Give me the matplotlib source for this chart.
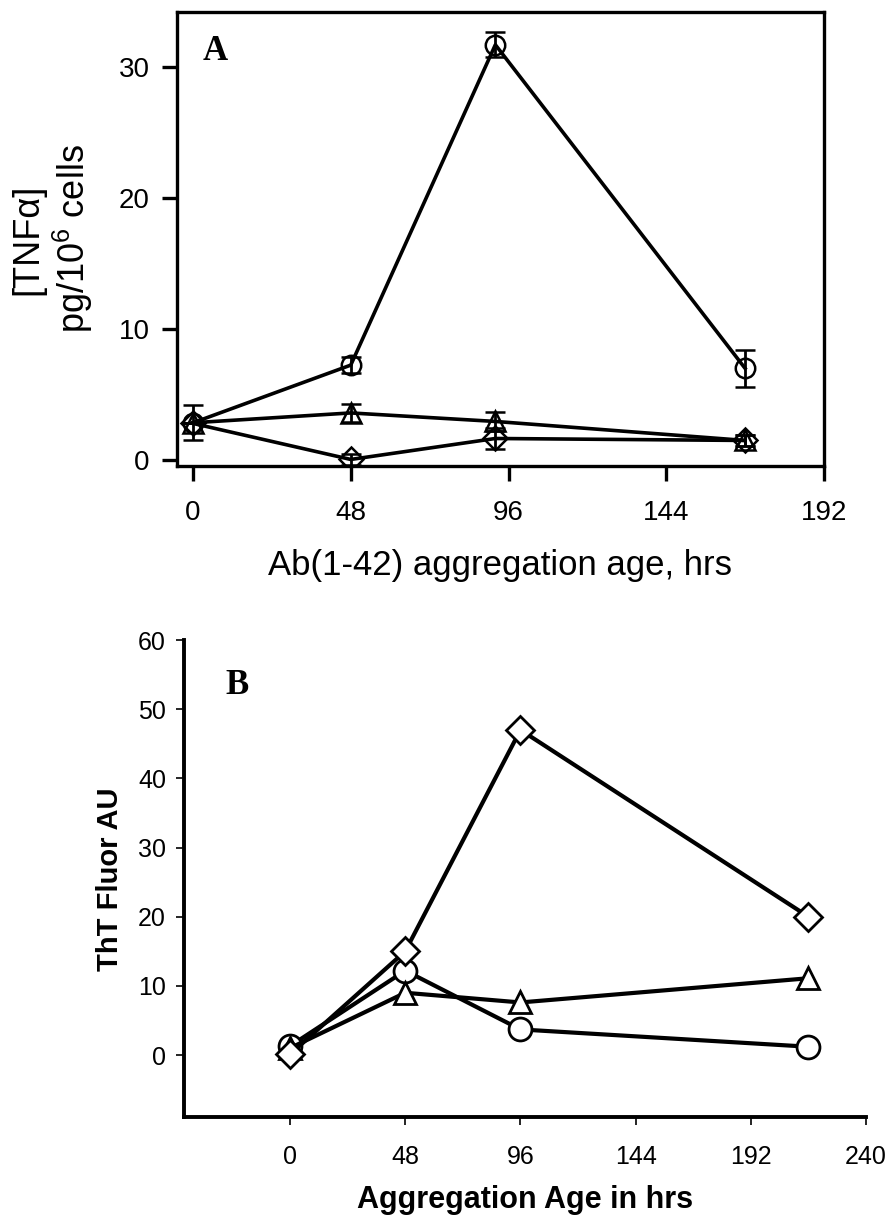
import matplotlib
matplotlib.use("Agg")
import matplotlib.pyplot as plt

plt.rcParams['font.family'] = ['Liberation Sans', 'DejaVu Sans']
plt.rcParams['mathtext.fontset'] = 'custom'
plt.rcParams['mathtext.rm'] = 'Liberation Sans'
plt.rcParams['mathtext.it'] = 'Liberation Sans:italic'

# panel A: TNFa vs aggregation age
a_hours = [0, 48, 92, 168]
a_circle = [2.85, 7.25, 31.7, 7.0]
a_circle_err = [1.35, 0.6, 0.95, 1.4]
a_triangle = [2.85, 3.6, 2.95, 1.5]
a_triangle_err = [0.0, 0.7, 0.7, 0.4]
a_diamond = [2.8, 0.05, 1.65, 1.5]
a_diamond_err = [0.0, 0.4, 0.8, 0.4]
a_xticks = [0, 48, 96, 144, 192]
a_yticks = [0, 10, 20, 30]

# panel B: ThT fluorescence
b_hours = [0, 48, 96, 216]
b_circle = [1.3, 12.2, 3.7, 1.2]
b_triangle = [1.0, 9.0, 7.6, 11.1]
b_diamond = [0.1, 15.0, 47.0, 20.0]
b_xticks = [0, 48, 96, 144, 192, 240]
b_yticks = [0, 10, 20, 30, 40, 50, 60]

W, H = 891, 1218
fig = plt.figure(figsize=(W / 100, H / 100), dpi=100)

def box(l, t, r, b):
    return [l / W, 1 - b / H, (r - l) / W, (b - t) / H]

# ---------- panel A ----------
ax1 = fig.add_axes(box(177, 12, 824, 466))
lw = 2.6
for y, err, m, ms in [(a_circle, a_circle_err, 'o', 14),
                      (a_triangle, a_triangle_err, '^', 14),
                      (a_diamond, a_diamond_err, 'D', 12)]:
    ax1.errorbar(a_hours, y, yerr=err, color='black', lw=lw, marker=m, ms=ms,
                 mfc='none', mec='black', mew=1.8, capsize=7, capthick=2,
                 elinewidth=2)

ax1.set_xlim(-4.87, 192)
ax1.set_ylim(-0.45, 34.2)
ax1.set_xticks(a_xticks)
ax1.set_yticks(a_yticks)
for s in ax1.spines.values():
    s.set_linewidth(2.4)
ax1.tick_params(direction='out', length=10.8, width=2.4, labelsize=20)
ax1.tick_params(axis='x', pad=14)
ax1.tick_params(axis='y', pad=9)
ax1.set_xlabel('Ab(1-42) aggregation age, hrs', fontsize=25)
ax1.xaxis.set_label_coords(0.5, (466 - 565) / 454)
ax1.xaxis.label.set_va('center')
ax1.set_ylabel('[TNF\u03b1]\npg/10$^6$ cells', fontsize=26, linespacing=1.15)
ax1.yaxis.set_label_coords((53 - 177) / 647, (466 - 239) / 454)
ax1.yaxis.label.set_va('center')
fig.text(215 / W, 1 - 52 / H, 'A', family='Liberation Serif', weight='bold',
         fontsize=25, ha='center', va='center')

# ---------- panel B ----------
ax2 = fig.add_axes(box(184, 640, 866, 1117))
lw2 = 3.0
for y, m, ms in [(b_circle, 'o', 16.5), (b_triangle, '^', 16.5), (b_diamond, 'D', 14)]:
    ax2.plot(b_hours, y, color='black', lw=lw2, marker=m, ms=ms,
             mfc='white', mec='black', mew=2.0)

ax2.set_xlim(-44.2, 240)
ax2.set_ylim(-8.96, 60)
ax2.set_xticks(b_xticks)
ax2.set_yticks(b_yticks)
ax2.spines['top'].set_visible(False)
ax2.spines['right'].set_visible(False)
ax2.spines['left'].set_linewidth(2.8)
ax2.spines['bottom'].set_linewidth(2.8)
ax2.tick_params(direction='out', length=6, width=1.2, labelsize=18)
ax2.tick_params(axis='x', pad=14)
ax2.tick_params(axis='y', pad=7)
ax2.set_xlabel('Aggregation Age in hrs', fontsize=22, weight='bold')
ax2.xaxis.set_label_coords(0.5, (1117 - 1200) / 477)
ax2.xaxis.label.set_va('center')
ax2.set_ylabel('ThT Fluor AU', fontsize=21, weight='bold')
ax2.yaxis.set_label_coords((110 - 184) / 682, (1117 - 879) / 477)
ax2.yaxis.label.set_va('center')
fig.text(237 / W, 1 - 686 / H, 'B', family='Liberation Serif', weight='bold',
         fontsize=25, ha='center', va='center')

fig.savefig('out.png', dpi=100)
